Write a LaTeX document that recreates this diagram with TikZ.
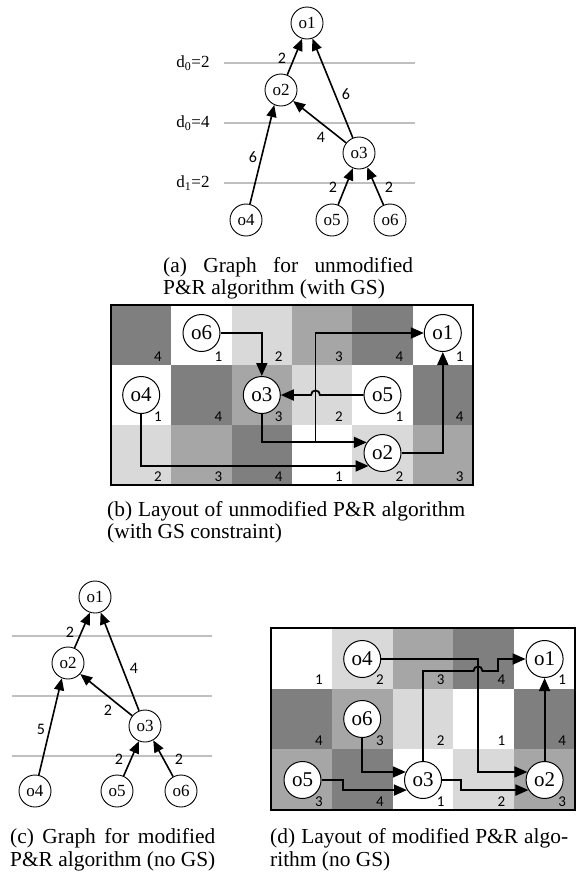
\documentclass[tikz,border=0pt]{standalone}
\usepackage{fontspec}
\setmainfont{Liberation Serif}
\newfontfamily\numfont{Carlito}
\usetikzlibrary{arrows.meta,calc}
\definecolor{lv1}{HTML}{FFFFFF}
\definecolor{lv2}{HTML}{D9D9D9}
\definecolor{lv3}{HTML}{A6A6A6}
\definecolor{lv4}{HTML}{7F7F7F}
\definecolor{lineg}{HTML}{BFBFBF}
\tikzset{
  gnode/.style={circle, draw, line width=0.9pt, fill=white, minimum size=32pt, inner sep=0pt, font=\fontsize{17}{17}\selectfont},
  lnode/.style={circle, draw, line width=1pt, fill=white, minimum size=37pt, inner sep=0pt, font=\fontsize{21}{21}\selectfont},
  gedge/.style={line width=1.6pt, -{Triangle[length=12pt,width=10pt]}},
  ledge/.style={line width=1.8pt, -{Triangle[length=13pt,width=11pt]}},
  wlabel/.style={font=\numfont\fontsize{16}{16}\selectfont, inner sep=0pt},
  cnum/.style={font=\numfont\fontsize{15}{15}\selectfont, inner sep=0pt},
  lvline/.style={lineg, line width=1.6pt},
  dlabel/.style={font=\fontsize{17}{17}\selectfont, inner sep=0pt},
  captxt/.style={anchor=base west, inner sep=0pt, font=\fontsize{21.4}{21.4}\selectfont},
  boxframe/.style={line width=2.2pt}
}
\begin{document}
\begin{tikzpicture}[x=1pt,y=-1pt]
\fill[white] (0,0) rectangle (578,873);
\useasboundingbox (0,0) rectangle (578,873);

% ---------------- (a) graph ----------------
\draw[lvline] (224,63) -- (415,63);
\draw[lvline] (224,123) -- (415,123);
\draw[lvline] (224,183) -- (415,183);
\node[dlabel] (la1) at (193,63) {d\textsubscript{0}=2};
\node[dlabel] (la2) at (193,123) {d\textsubscript{0}=4};
\node[dlabel] (la3) at (193,183) {d\textsubscript{1}=2};
\node[gnode] (a1) at (307,23) {o1};
\node[gnode] (a2) at (281,90) {o2};
\node[gnode] (a3) at (359,153) {o3};
\node[gnode] (a4) at (246,220) {o4};
\node[gnode] (a5) at (332,220) {o5};
\node[gnode] (a6) at (390,220) {o6};
\draw[gedge] (a2) -- (a1.253);
\draw[gedge] (a3) -- (a1.289);
\draw[gedge] (a3) -- (a2.-42);
\draw[gedge] (a4) -- (a2.246);
\draw[gedge] (a5) -- (a3.248);
\draw[gedge] (a6) -- (a3.300);
\node[wlabel] (wa1) at (282,58) {2};
\node[wlabel] (wa2) at (346,94) {6};
\node[wlabel] (wa3) at (321,137) {4};
\node[wlabel] (wa4) at (253,157) {6};
\node[wlabel] (wa5) at (333,187) {2};
\node[wlabel] (wa6) at (389,187) {2};
\node[captxt] (ca1) at (163,272) {\makebox[250pt][s]{(a) Graph for unmodified}};
\node[captxt] (ca2) at (163,294) {P\&R algorithm (with GS)};

% ---------------- (b) layout ----------------
\foreach \r/\row in {0/{4,1,2,3,4,1},1/{1,4,3,2,1,4},2/{2,3,4,1,2,3}} {
  \foreach \v [count=\c from 0] in \row {
    \fill[lv\v] ({111+60.33*\c},{305+60*\r}) rectangle +(60.33,60);
    \node[cnum] (nb-\r-\c) at ({111+60.33*\c+47},{305+60*\r+52}) {\v};
  }
}
\draw[boxframe] (111,305) rectangle (473,485);
\node[lnode] (b6) at (201.5,333) {o6};
\node[lnode] (b1) at (442.8,333) {o1};
\node[lnode] (b4) at (141.2,395) {o4};
\node[lnode] (b3) at (261.8,395) {o3};
\node[lnode] (b5) at (382.5,395) {o5};
\node[lnode] (b2) at (382.5,453) {o2};
\coordinate (b2in) at (b2.146);
\coordinate (b2lo) at (b2.223);
\coordinate (bxv) at (315.5,0);
\draw[ledge] (b6.east) -| (b3.north);
\draw[ledge] (b5.west) -- ($(bxv|-b5.west)+(4.5,0)$) .. controls +(0,-6) and +(0,-6) .. ($(bxv|-b5.west)+(-4.5,0)$) -- (b3.east);
\draw[ledge] (b3.south) |- (b2in);
\draw[ledge] (bxv |- b2in) |- (b1.west);
\draw[ledge] (b4.south) |- (b2lo);
\draw[ledge] (b2.east) -| (b1.south);
\node[captxt] (cb1) at (107,516) {\makebox[358pt][s]{(b) Layout of unmodified P\&R algorithm}};
\node[captxt] (cb2) at (107,538) {(with GS constraint)};

% ---------------- (c) graph ----------------
\draw[lvline] (12,636) -- (212,636);
\draw[lvline] (12,696) -- (212,696);
\draw[lvline] (12,756) -- (212,756);
\node[gnode] (c1) at (95,597) {o1};
\node[gnode] (c2) at (68,663) {o2};
\node[gnode] (c3) at (145,726) {o3};
\node[gnode] (c4) at (35,791) {o4};
\node[gnode] (c5) at (117,791) {o5};
\node[gnode] (c6) at (181,791) {o6};
\draw[gedge] (c2) -- (c1.252);
\draw[gedge] (c3) -- (c1.290);
\draw[gedge] (c3) -- (c2.-42);
\draw[gedge] (c4) -- (c2.248);
\draw[gedge] (c5) -- (c3.248);
\draw[gedge] (c6) -- (c3.300);
\node[wlabel] (wc1) at (70,632) {2};
\node[wlabel] (wc2) at (134,668) {4};
\node[wlabel] (wc3) at (108,710) {2};
\node[wlabel] (wc4) at (41,729) {5};
\node[wlabel] (wc5) at (119,759) {2};
\node[wlabel] (wc6) at (179,759) {2};
\node[captxt] (cc1) at (10,843) {\makebox[205pt][s]{(c) Graph for modified}};
\node[captxt] (cc2) at (10,866) {P\&R algorithm (no GS)};

% ---------------- (d) layout ----------------
\foreach \r/\row in {0/{1,2,3,4,1},1/{4,3,2,1,4},2/{3,4,1,2,3}} {
  \foreach \v [count=\c from 0] in \row {
    \fill[lv\v] ({271+60.8*\c},{628+60.67*\r}) rectangle +(60.8,60.67);
    \node[cnum] (nd-\r-\c) at ({271+60.8*\c+48},{628+60.67*\r+52}) {\v};
  }
}
\draw[boxframe] (271,628) rectangle (575,810);
\node[lnode] (d4) at (362.2,659) {o4};
\node[lnode] (d1) at (544.6,659) {o1};
\node[lnode] (d6) at (362.2,719) {o6};
\node[lnode] (d5) at (302.5,780) {o5};
\node[lnode] (d3) at (423,780) {o3};
\node[lnode] (d2) at (544.6,780) {o2};
\coordinate (d3a) at (d3.155);
\coordinate (d3b) at (d3.212);
\coordinate (d2a) at (d2.155);
\coordinate (d2b) at (d2.212);
\coordinate (dxa) at (478,0);
\coordinate (dxb) at (343,0);
\coordinate (dxc) at (461,0);
\draw[ledge] (d2.north) -- (d1.south);
\draw[ledge] (d4.east) -| (dxa |- d2a) -- (d2a);
\draw[ledge] (d3.north) -- (423,671) -- (473.5,671) .. controls +(0,-6) and +(0,-6) .. (482.5,671) -- (498,671) |- (d1.west);
\draw[ledge] (d6.south) |- (d3a);
\draw[ledge] (d5.east) -| (dxb |- d3b) -- (d3b);
\draw[ledge] (d3.east) -| (dxc |- d2b) -- (d2b);
\node[captxt] (cd1) at (270,843) {\makebox[298pt][s]{(d) Layout of modified P\&R algo-}};
\node[captxt] (cd2) at (270,866) {rithm (no GS)};
\end{tikzpicture}
\end{document}
